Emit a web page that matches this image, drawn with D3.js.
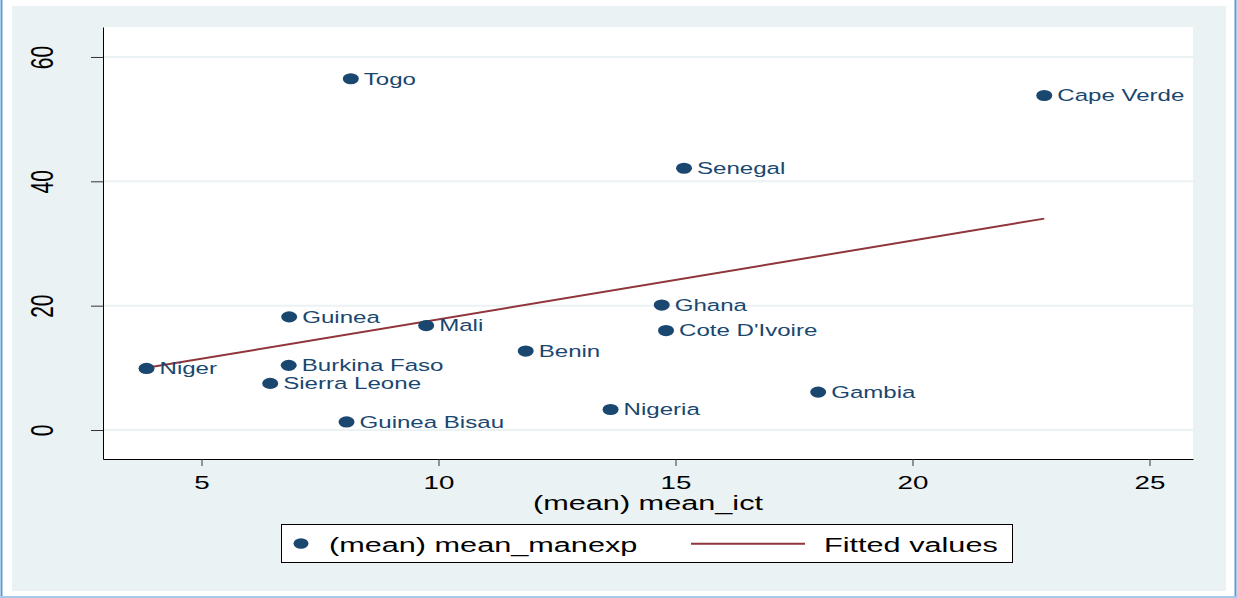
<!DOCTYPE html>
<html>
<head>
<meta charset="utf-8">
<script src="https://cdn.jsdelivr.net/npm/d3@7"></script>
<style>
  html, body { margin: 0; padding: 0; background: #fff; }
  svg { display: block; font-family: "Liberation Sans", Arial, sans-serif; }
</style>
</head>
<body>
<svg id="chart"></svg>
<script>
// values
const countries = ['Togo', 'Cape Verde', 'Senegal', 'Ghana', "Cote D'Ivoire", 'Guinea', 'Mali',
  'Benin', 'Niger', 'Burkina Faso', 'Sierra Leone', 'Guinea Bisau', 'Nigeria', 'Gambia'];
const meanIct = [8.15, 22.78, 15.18, 14.71, 14.80, 6.85, 9.74, 11.84, 3.84, 6.84, 6.45, 8.06, 13.63, 18.01];
const meanManexp = [56.5, 53.8, 42.1, 20.1, 16.0, 18.2, 16.8, 12.7, 9.9, 10.4, 7.5, 1.3, 3.3, 6.1];
const fitX = [3.84, 22.78];
const fitY = [10.0, 34.0];
const xTicks = [5, 10, 15, 20, 25];
const yTicks = [0, 20, 40, 60];
const xTitle = '(mean) mean_ict';
const legendLabels = ['(mean) mean_manexp', 'Fitted values'];

const W = 1237, H = 598;
const navy = '#1a476f', maroon = '#90353b', bg = '#eaf2f3';
const sx = 1.46; // the picture is stretched sideways

const svg = d3.select('#chart').attr('width', W).attr('height', H);

// page frame
svg.append('rect').attr('width', W).attr('height', H).attr('fill', '#fff');
svg.append('rect').attr('x', 12).attr('y', 6).attr('width', 1214).attr('height', 585).attr('fill', bg);
svg.append('line').attr('x1', 1.5).attr('x2', 1.5).attr('y1', 0).attr('y2', H)
  .attr('stroke', '#5a9bd5').attr('stroke-width', 2);
svg.append('line').attr('x1', 1235.5).attr('x2', 1235.5).attr('y1', 0).attr('y2', H)
  .attr('stroke', '#5a9bd5').attr('stroke-width', 2);
svg.append('line').attr('x1', 0).attr('x2', W).attr('y1', 597).attr('y2', 597)
  .attr('stroke', '#a9c8e8').attr('stroke-width', 2);

const plot = { left: 103, right: 1193, top: 27, bottom: 459 };

const x = d3.scaleLinear().domain([2.922, 25.918]).range([plot.left, plot.right]);
const y = d3.scaleLinear().domain([-4.66, 64.82]).range([plot.bottom, plot.top]);

svg.append('rect')
  .attr('x', plot.left).attr('y', plot.top)
  .attr('width', plot.right - plot.left).attr('height', plot.bottom - plot.top)
  .attr('fill', '#fff');

// grid
svg.append('g').selectAll('line')
  .data(yTicks)
  .enter()
  .append('line')
  .attr('x1', plot.left).attr('x2', plot.right)
  .attr('y1', d => y(d)).attr('y2', d => y(d))
  .attr('stroke', bg).attr('stroke-width', 2);

// axes
const xAxis = svg.append('g')
  .attr('transform', `translate(0,${plot.bottom})`)
  .call(d3.axisBottom(x).tickValues(xTicks).tickSize(7).tickSizeOuter(0));
xAxis.select('.domain').attr('stroke', '#000');
xAxis.selectAll('.tick line').attr('stroke', '#333');
xAxis.selectAll('.tick text')
  .attr('y', 30).attr('dy', 0)
  .attr('transform', `scale(${sx},1)`)
  .attr('fill', '#000')
  .style('font-size', '19px');

const yAxis = svg.append('g')
  .attr('transform', `translate(${plot.left},0)`)
  .call(d3.axisLeft(y).tickValues(yTicks).tickSize(12).tickSizeOuter(0));
yAxis.select('.domain').attr('stroke', '#000');
yAxis.selectAll('.tick line').attr('stroke', '#333');
yAxis.selectAll('.tick text')
  .attr('x', 0).attr('dy', 0)
  .attr('text-anchor', 'middle')
  .attr('transform', `translate(-50,0) scale(${sx},1) rotate(-90)`)
  .attr('fill', '#000')
  .style('font-size', '21px');

svg.append('text')
  .attr('transform', `translate(${(plot.left + plot.right) / 2},510) scale(${sx},1)`)
  .attr('text-anchor', 'middle')
  .style('font-size', '21px')
  .text(xTitle);

// fitted line
svg.append('path')
  .datum(d3.zip(fitX, fitY))
  .attr('d', d3.line().x(d => x(d[0])).y(d => y(d[1])))
  .attr('fill', 'none')
  .attr('stroke', maroon)
  .attr('stroke-width', 2);

// points and labels
const pts = svg.append('g').selectAll('g')
  .data(countries.map((c, i) => ({ c, ict: meanIct[i], man: meanManexp[i] })))
  .enter()
  .append('g')
  .attr('transform', d => `translate(${x(d.ict)},${y(d.man)})`);

pts.append('ellipse')
  .attr('rx', 8).attr('ry', 5.6)
  .attr('fill', navy);

pts.append('text')
  .attr('transform', `translate(13,5.8) scale(${sx},1)`)
  .attr('fill', navy)
  .style('font-size', '16.5px')
  .text(d => d.c);

// legend
const lg = svg.append('g');
lg.append('rect')
  .attr('x', 281.5).attr('y', 524.5).attr('width', 731).attr('height', 38)
  .attr('fill', '#fff').attr('stroke', '#000').attr('stroke-width', 1);
lg.append('ellipse')
  .attr('cx', 301).attr('cy', 543.5).attr('rx', 7.5).attr('ry', 5.2)
  .attr('fill', navy);
lg.append('text')
  .attr('transform', `translate(329,551.5) scale(${sx},1)`)
  .style('font-size', '21px')
  .text(legendLabels[0]);
lg.append('line')
  .attr('x1', 691).attr('x2', 805).attr('y1', 543.7).attr('y2', 543.7)
  .attr('stroke', maroon).attr('stroke-width', 2);
lg.append('text')
  .attr('transform', `translate(824,551.5) scale(${sx},1)`)
  .style('font-size', '21px')
  .text(legendLabels[1]);
</script>
</body>
</html>
